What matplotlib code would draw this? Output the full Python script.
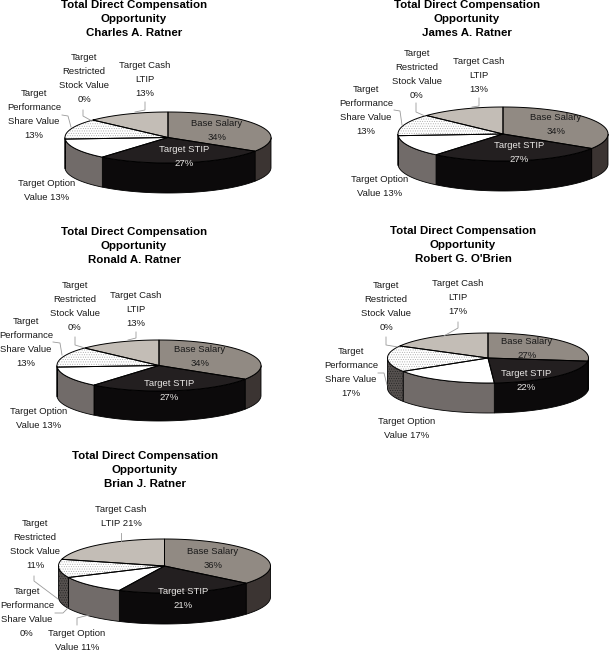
# -*- coding: utf-8 -*-
import numpy as np
import matplotlib
matplotlib.use('Agg')
import matplotlib.pyplot as plt
from matplotlib.patches import Polygon

plt.rcParams['font.family'] = ['Liberation Sans', 'DejaVu Sans']
plt.rcParams['hatch.linewidth'] = 0.4

names = ['Charles A. Ratner', 'James A. Ratner', 'Ronald A. Ratner', "Robert G. O'Brien", 'Brian J. Ratner']

# shares in pie order, clockwise from 12 o'clock
base_salary = [34, 34, 34, 27, 36]
target_stip = [27, 27, 27, 22, 21]
target_option = [13, 13, 13, 17, 11]
target_perf = [13, 13, 13, 17, 0]
target_restricted = [0, 0, 0, 0, 11]
target_cash = [13, 13, 13, 17, 21]

top_cols = ['#918a83', '#231f20', '#ffffff', '#ffffff', '#ffffff', '#c3bdb6']
side_cols = ['#3b3432', '#0c0a0b', '#716b69', '#56514f', '#56514f', '#8f8a85']
dotted = [False, False, False, True, True, False]

# pixel layout of each pie: cx, cy, rx, ry, depth
pies = [(168, 137.5, 103, 25.5, 30),
        (503, 134, 105, 27, 30),
        (159, 365.5, 102, 25.5, 30),
        (488, 358, 100.5, 25, 30),
        (164.5, 566, 106, 27, 31)]
title_pos = [(134, 5), (467, 5), (134, 232), (463, 231), (145, 456)]
base_pos = [(217, 123), (556, 118), (200, 350), (527, 342), (213, 551)]
stip_pos = [(184, 149), (519, 145), (169, 383), (526, 374), (183, 591)]
option_pos = [(47, 184), (380, 180), (39, 411), (407, 421), (77, 634)]
perf_pos = [(34, 94), (366, 89), (26, 322), (351, 352), (27, 592)]
restr_pos = [(84, 58), (417, 53), (75, 286), (386, 286), (35, 523)]
cash_pos = [(145, 66), (479, 61), (136, 295), (458, 283), (121, 510)]

leaders = [
    [[(145, 102), (145, 110), (135, 112)], [(83, 110), (83, 116), (92, 121)], [(62, 115), (68, 116), (71, 127)]],
    [[(479, 98), (479, 106), (472, 107)], [(416, 103), (416, 112), (425, 116)], [(394, 110), (400, 111), (402, 125)]],
    [[(136, 332), (136, 338), (128, 340)], [(75, 337), (75, 345), (85, 348)], [(53, 342), (60, 343), (62, 355)]],
    [[(458, 322), (458, 328), (442, 337)], [(386, 337), (386, 345), (398, 347)], [(378, 373), (384, 373), (387, 385)]],
    [[(121, 533), (121, 541)], [(34, 576), (34, 581), (58, 599)], [(55, 613), (63, 613), (68, 608)], [(77, 625), (77, 618), (89, 615)]],
]

LINE = 14


def arc(p, a1, a2):
    # angles in degrees clockwise from the top, y axis points down
    t = np.radians(np.arange(a1, a2, 1.0).tolist() + [a2])
    return np.column_stack([p[0] + p[2] * np.sin(t), p[1] - p[3] * np.cos(t)])


def put_text(ax, pos, lines, col='#1a1a1a', size=6.8, weight='normal'):
    for i, s in enumerate(lines):
        ax.text(pos[0], pos[1] + i * LINE, s, ha='center', va='center', fontsize=size, color=col,
                fontweight=weight, zorder=5)


fig = plt.figure(figsize=(6.1, 6.52), dpi=100)
ax = fig.add_axes([0, 0, 1, 1])
ax.set_xlim(0, 610)
ax.set_ylim(652, 0)
ax.axis('off')

for k in range(len(names)):
    p = pies[k]
    shares = [base_salary[k], target_stip[k], target_option[k], target_perf[k], target_restricted[k], target_cash[k]]
    edges = np.concatenate([[0], np.cumsum(shares)]) * 3.6

    # rim, only the front half is visible
    for i in range(6):
        a1 = max(edges[i], 90)
        a2 = min(edges[i + 1], 270)
        if a2 <= a1:
            continue
        upper = arc(p, a1, a2)
        lower = upper[::-1] + [0, p[4]]
        ax.add_patch(Polygon(np.vstack([upper, lower]), facecolor=side_cols[i], edgecolor='k', lw=0.6, zorder=2))
        if dotted[i]:
            ax.add_patch(Polygon(np.vstack([upper, lower]), facecolor='none', edgecolor='#222222', hatch='.......', lw=0, zorder=2.1))

    # top face
    for i in range(6):
        if shares[i] == 0:
            continue
        pts = np.vstack([[p[0], p[1]], arc(p, edges[i], edges[i + 1])])
        ax.add_patch(Polygon(pts, facecolor=top_cols[i], edgecolor='none', zorder=3))
        if dotted[i]:
            ax.add_patch(Polygon(pts, facecolor='none', edgecolor='#a8a8a8', hatch='.......', lw=0, zorder=3.1))
        ax.add_patch(Polygon(pts, facecolor='none', edgecolor='k', lw=0.7, zorder=3.2))

    for pts in leaders[k]:
        xy = np.array(pts)
        ax.plot(xy[:, 0], xy[:, 1], color='#9a9a9a', lw=0.6, zorder=4)

    put_text(ax, title_pos[k], ['Total Direct Compensation', 'Opportunity', names[k]], col='k', size=8.25, weight='bold')
    put_text(ax, base_pos[k], ['Base Salary', '%d%%' % base_salary[k]])
    put_text(ax, stip_pos[k], ['Target STIP', '%d%%' % target_stip[k]], col='#e8e6e4')
    put_text(ax, option_pos[k], ['Target Option', 'Value %d%%' % target_option[k]])
    put_text(ax, perf_pos[k], ['Target', 'Performance', 'Share Value', '%d%%' % target_perf[k]])
    put_text(ax, restr_pos[k], ['Target', 'Restricted', 'Stock Value', '%d%%' % target_restricted[k]])
    if k == 4:
        put_text(ax, cash_pos[k], ['Target Cash', 'LTIP %d%%' % target_cash[k]])
    else:
        put_text(ax, cash_pos[k], ['Target Cash', 'LTIP', '%d%%' % target_cash[k]])

plt.savefig('out.png', dpi=100)
